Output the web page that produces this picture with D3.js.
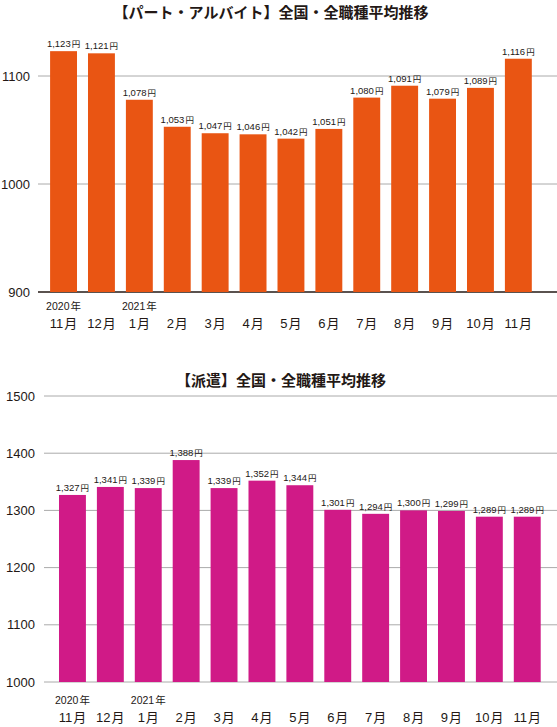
<!DOCTYPE html>
<html><head><meta charset="utf-8">
<script src="https://cdn.jsdelivr.net/npm/d3@7"></script>
<style>
body{margin:0;background:#fff;}
text{fill:#231815;}
</style></head>
<body><svg id="c" width="557" height="727"></svg>
<script>
const months = ["11月","12月","1月","2月","3月","4月","5月","6月","7月","8月","9月","10月","11月"];
const yearLabels = ["2020年","","2021年","","","","","","","","","",""];
const partValues = [1123,1121,1078,1053,1047,1046,1042,1051,1080,1091,1079,1089,1116];
const hakenValues = [1327,1341,1339,1388,1339,1352,1344,1301,1294,1300,1299,1289,1289];
const partTicks = [900,1000,1100];
const hakenTicks = [1000,1100,1200,1300,1400,1500];
const partTitle = "【パート・アルバイト】全国・全職種平均推移";
const hakenTitle = "【派遣】全国・全職種平均推移";

const svg = d3.select("#c");
const jp = "'Noto Sans CJK JP', sans-serif";
const num = "'Liberation Sans', Arial, sans-serif";

function chart(cfg){
  const g = svg.append("g");
  const y = d3.scaleLinear().domain(cfg.domain).range(cfg.yRange);
  const x = d3.scaleBand().domain(d3.range(cfg.values.length))
    .range(cfg.xRange).paddingInner(0.29).paddingOuter(0.145);
  g.append("text").attr("x", cfg.titleX).attr("y", cfg.titleY)
    .attr("text-anchor","middle").attr("font-family", jp).attr("font-weight","bold")
    .attr("font-size", 15).text(cfg.title);
  // grid
  g.selectAll(".grid").data(cfg.ticks).enter().append("line")
    .attr("x1", cfg.gridX0).attr("x2", 557)
    .attr("y1", d=>y(d)).attr("y2", d=>y(d))
    .attr("stroke", (d,i)=> (i===0 && cfg.darkBase) ? "#231815" : "#aaaaaa")
    .attr("stroke-width", (d,i)=> (i===0 && cfg.darkBase) ? 1.3 : 1);
  g.selectAll(".tick").data(cfg.ticks).enter().append("text")
    .attr("x", cfg.tickX).attr("y", d=>y(d)+4.5).attr("text-anchor","end")
    .attr("font-family", num).attr("font-size", 13).text(d=>d);
  // bars
  g.selectAll(".bar").data(cfg.values).enter().append("rect")
    .attr("x",(d,i)=>x(i)).attr("width", x.bandwidth())
    .attr("y", d=>y(d)).attr("height", d=>y(cfg.domain[0])-y(d))
    .attr("fill", cfg.color);
  // value labels
  const vl = g.selectAll(".vl").data(cfg.values).enter().append("text")
    .attr("x",(d,i)=>x(i)+x.bandwidth()/2).attr("y", d=>y(d)-4)
    .attr("text-anchor","middle").attr("font-family", num).attr("font-size", 9.5);
  vl.append("tspan").text(d=>d3.format(",")(d));
  vl.append("tspan").attr("font-family", jp).attr("font-size", 8.5).attr("dx",1).text("円");
  // x labels
  g.selectAll(".yl").data(yearLabels).enter().append("text")
    .attr("x",(d,i)=>x(i)+x.bandwidth()/2).attr("y", cfg.yearY)
    .attr("text-anchor","middle").attr("font-size", 10.5).attr("font-family", num)
    .each(function(d){
      if(!d) return;
      const t = d3.select(this);
      t.append("tspan").text(d.replace("年",""));
      t.append("tspan").attr("font-family", jp).attr("dx",1).text("年");
    });
  g.selectAll(".ml").data(months).enter().append("text")
    .attr("x",(d,i)=>x(i)+x.bandwidth()/2).attr("y", cfg.monthY)
    .attr("text-anchor","middle").attr("font-size", 13).attr("font-family", num)
    .each(function(d){
      const t = d3.select(this);
      t.append("tspan").text(d.replace("月",""));
      t.append("tspan").attr("font-family", jp).attr("dx",1).text("月");
    });
}

chart({title: partTitle, titleX: 271, titleY: 17.5, values: partValues, domain:[900,1100],
  yRange:[292,76], xRange:[44.6,537.3], ticks: partTicks, gridX0: 38, tickX: 30,
  color:"#E95513", darkBase:true, yearY: 310, monthY: 328});
chart({title: hakenTitle, titleX: 281, titleY: 386, values: hakenValues, domain:[1000,1500],
  yRange:[682,396], xRange:[53.5,546.2], ticks: hakenTicks, gridX0: 44, tickX: 35,
  color:"#D01A87", darkBase:false, yearY: 704, monthY: 721.5});
</script></body></html>
